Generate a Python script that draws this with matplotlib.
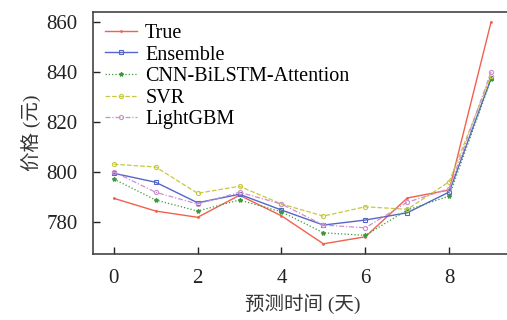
import matplotlib.pyplot as plt
import numpy as np

# Datos
dias = np.arange(10)
valores_true = [789.5, 784.4, 781.9, 790.7, 782.5, 771.3, 774.1, 789.6, 792.8, 860.0]
valores_ensemble = [799.5, 795.9, 787.7, 791.1, 784.8, 778.8, 780.8, 783.7, 792.0, 837.5]
valores_cnn = [797.2, 788.8, 784.4, 788.8, 784.1, 775.7, 774.7, 784.8, 790.4, 837.0]
valores_svr = [803.1, 802.0, 791.5, 794.3, 787.2, 782.4, 786.1, 785.1, 796.1, 838.5]
valores_lgbm = [800.1, 791.9, 787.2, 791.9, 787.2, 778.8, 777.7, 787.9, 793.3, 840.0]

plt.rcParams['font.family'] = ['Liberation Serif', 'Noto Sans CJK SC']
plt.rcParams['axes.unicode_minus'] = False

fig = plt.figure(figsize=(5.07, 3.2), dpi=100)
ax = fig.add_axes([0.183, 0.206, 0.827, 0.757])

ax.plot(dias, valores_true, color='#f2604f', lw=1.0, marker='.', ms=2, label='True')
ax.plot(dias, valores_ensemble, color='#5566c8', lw=1.0, marker='s', ms=3,
        mfc='none', mew=0.8, label='Ensemble')
ax.plot(dias, valores_cnn, color='#3c9a3c', lw=0.9, ls=':', marker='*', ms=3,
        label='CNN-BiLSTM-Attention')
ax.plot(dias, valores_svr, color='#c8c840', lw=0.9, ls='--', marker='o', ms=3,
        mfc='none', mew=0.8, label='SVR')
ax.plot(dias, valores_lgbm, color='#cc8fd0', lw=0.9, ls=(0, (4, 1.5, 1, 1.5)), marker='o', ms=3,
        mfc='none', mew=0.8, label='LightGBM')

ax.set_xlim(-0.5, 9.5)
ax.set_ylim(767.2, 864)
ax.set_xticks([0, 2, 4, 6, 8])
ax.set_yticks([780, 800, 820, 840, 860])
ax.tick_params(direction='in', length=5, width=1, labelsize=15, colors='#222222', pad=11)
for s in ax.spines.values():
    s.set_color('#444444')
    s.set_linewidth(1.2)

ax.set_xlabel('预测时间 (天)', fontsize=14, color='#333333', labelpad=4)
ax.set_ylabel('价格 (元)', fontsize=14, color='#333333', labelpad=4)

ax.legend(loc='upper left', frameon=False, fontsize=14.5, handlelength=1.6,
          labelspacing=0.12, handletextpad=0.4, borderaxespad=0.2,
          bbox_to_anchor=(0.0, 1.0))

fig.savefig('out.png', dpi=100)
